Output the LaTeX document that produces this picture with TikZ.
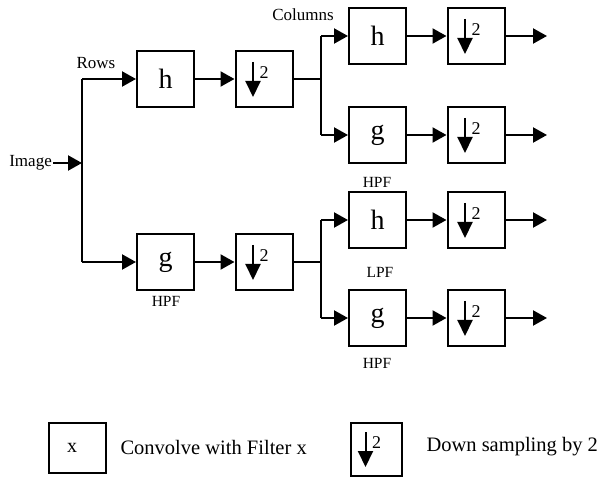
\documentclass[tikz,border=0pt]{standalone}
\usepackage{fontspec}
\setmainfont{Liberation Serif}
\usetikzlibrary{arrows.meta, positioning}

\begin{document}
\begin{tikzpicture}[x=1pt, y=-1pt,
    filt/.style={draw, line width=2pt, minimum width=57pt, minimum height=56pt,
                 inner sep=0pt, font=\fontsize{28}{30}\selectfont},
    dsbox/.style={draw, line width=2pt, minimum width=57pt, minimum height=56pt, inner sep=0pt},
    lbl/.style={font=\fontsize{17}{19}\selectfont, inner sep=1pt},
    pf/.style={font=\fontsize{15.5}{17}\selectfont, inner sep=1pt},
    wire/.style={line width=2.2pt},
    flow/.style={line width=2.2pt, -{Triangle[length=14pt,width=15pt]}}]
  \useasboundingbox (0,0) rectangle (605,478);

  % first stage: rows
  \node[lbl, anchor=east] (img) at (53,163) {Image};
  \coordinate (s1) at (82,163);
  \node[lbl] (rows) at (96,63) {Rows};
  \node[filt] (h1) at (165.5,79) {h};
  \node[filt] (g1) at (165.5,262) {g};
  \node[pf] (hpf1) at (166,301) {HPF};
  \node[dsbox] (d1) at (264,79) {};
  \node[dsbox] (d2) at (264,262) {};

  % second stage: columns
  \coordinate (s2) at (321,79);
  \coordinate (s3) at (321,262);
  \node[lbl] (cols) at (303,15) {Columns};
  \node[filt] (hh) at (377.5,36) {h};
  \node[filt] (hg) at (377.5,135) {g};
  \node[filt] (gh) at (377.5,220) {h};
  \node[filt] (gg) at (377.5,318) {g};
  \node[pf] (hpf2) at (377,182) {HPF};
  \node[pf] (lpf) at (380,272) {LPF};
  \node[pf] (hpf3) at (377,363) {HPF};
  \node[dsbox] (dhh) at (476,36) {};
  \node[dsbox] (dhg) at (476,135) {};
  \node[dsbox] (dgh) at (476,220) {};
  \node[dsbox] (dgg) at (476,318) {};
  \foreach \d/\y in {dhh/36, dhg/135, dgh/220, dgg/318}
    \coordinate (o\d) at (547,\y);

  % legend
  \node[filt, minimum height=50pt] (lx) at (77,448) {};
  \node[font=\fontsize{20}{22}\selectfont, inner sep=0pt] (lxl) at ([xshift=-5pt]lx.center) {x};
  \node[font=\fontsize{20.5}{22}\selectfont, anchor=west] (lxt) at (117,447) {Convolve with Filter x};
  \node[dsbox, minimum width=51pt, minimum height=53pt] (ld) at (376.5,449) {};
  \node[font=\fontsize{20.5}{22}\selectfont, anchor=west] (ldt) at (423,447) {Down sampling by 2};

  % down sampling symbols
  \foreach \d in {d1, d2, dhh, dhg, dgh, dgg, ld} {
    \draw[line width=2pt, -{Triangle[length=16pt,width=15pt]}]
      ([xshift=-11pt,yshift=17pt]\d.center) -- ([xshift=-11pt,yshift=-18pt]\d.center);
    \node[font=\fontsize{18}{20}\selectfont, inner sep=0pt] at ([xshift=0pt,yshift=6pt]\d.center) {2};
  }

  % connectors
  \draw[flow] (img.east) -- (s1);
  \draw[wire] (s1 |- h1) -- (s1 |- g1);
  \draw[flow] (s1 |- h1) -- (h1.west);
  \draw[flow] (s1 |- g1) -- (g1.west);
  \draw[wire] (d1.east) -- (s2);
  \draw[wire] (d2.east) -- (s3);
  \draw[wire] (s2 |- hh) -- (s2 |- hg);
  \draw[wire] (s3 |- gh) -- (s3 |- gg);
  \foreach \f in {hh, hg} \draw[flow] (s2 |- \f) -- (\f.west);
  \foreach \f in {gh, gg} \draw[flow] (s3 |- \f) -- (\f.west);
  \foreach \a/\b in {h1/d1, g1/d2, hh/dhh, hg/dhg, gh/dgh, gg/dgg}
    \draw[flow] (\a.east) -- (\b.west);
  \foreach \d in {dhh, dhg, dgh, dgg}
    \draw[flow] (\d.east) -- (o\d);
\end{tikzpicture}
\end{document}
